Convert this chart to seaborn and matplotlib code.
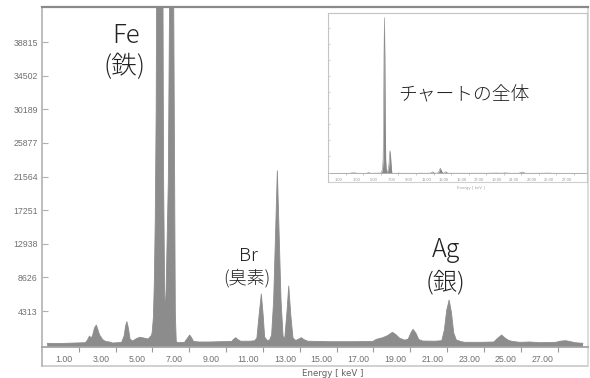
import matplotlib
matplotlib.use("Agg")
import matplotlib.pyplot as plt
import matplotlib.transforms as mtransforms
import seaborn as sns

# spectrum (keV, counts)
energy_kev = [0.28, 0.95, 1.77, 2.36, 2.47, 2.58, 2.66, 2.74, 2.85, 2.95,
              3.04, 3.13, 3.29, 3.45, 3.67, 3.83, 4.32, 4.46, 4.54, 4.61,
              4.69, 4.78, 4.92, 5.14, 5.30, 5.52, 5.76, 5.92, 5.98, 6.05,
              6.10, 6.15, 6.20, 6.25, 6.30, 6.35, 6.40, 6.45, 6.50, 6.55,
              6.60, 6.66, 6.70, 6.74, 6.80, 6.86, 6.93, 6.99, 7.04, 7.09,
              7.15, 7.20, 7.24, 7.29, 7.36, 7.74, 7.91, 8.02, 8.13, 8.23,
              8.56, 9.10, 9.65, 10.30, 10.40, 10.52, 10.63, 10.79, 11.28, 11.55,
              11.67, 11.79, 11.91, 12.01, 12.09, 12.23, 12.36, 12.47, 12.58, 12.69,
              12.78, 12.87, 12.98, 13.09, 13.18, 13.29, 13.40, 13.51, 13.63, 13.78,
              13.94, 14.09, 14.21, 14.43, 15.63, 16.71, 17.96, 18.16, 18.51, 18.78,
              19.03, 19.21, 19.43, 19.70, 19.89, 20.03, 20.15, 20.30, 20.46, 20.68,
              21.33, 21.71, 21.85, 21.98, 22.11, 22.23, 22.36, 22.50, 22.78, 22.96,
              23.78, 24.54, 24.70, 24.96, 25.14, 25.35, 25.57, 25.95, 26.49, 27.04,
              27.91, 28.13, 28.43, 28.67, 28.94, 29.38]
counts = [167, 140, 205, 245, 590, 1100, 850, 1100, 2130, 2515,
          1870, 1230, 655, 400, 335, 205, 270, 1100, 2390, 2940,
          2130, 720, 460, 780, 940, 850, 720, 1100, 1500, 3500,
          8000, 16000, 30000, 60000, 200000, 520000, 690000, 520000, 200000, 60000,
          22000, 7000, 3580, 7000, 14000, 21000, 45000, 85000, 100000, 85000,
          45000, 21000, 4000, 400, 245, 295, 850, 1230, 850, 400,
          335, 335, 372, 400, 655, 890, 655, 436, 436, 490,
          850, 3800, 6495, 3800, 975, 525, 590, 1230, 5725, 14700,
          22320, 14700, 5725, 1100, 720, 3800, 7520, 3800, 850, 525,
          720, 890, 655, 436, 372, 372, 400, 680, 890, 1170,
          1580, 1300, 810, 565, 720, 1490, 1960, 1490, 655, 460,
          436, 500, 1870, 4440, 5720, 4185, 1490, 590, 372, 295,
          295, 335, 720, 1230, 850, 525, 400, 295, 335, 245,
          295, 436, 500, 400, 245, 167]

y_tick_values = [4313, 8626, 12938, 17251, 21564, 25877, 30189, 34502, 38815]
x_label_values = [1, 3, 5, 7, 9, 11, 13, 15, 17, 19, 21, 23, 25, 27]
x_tick_labels = ["%.2f" % v for v in x_label_values]
x_minor_values = [2, 4, 6, 8, 10, 12, 14, 16, 18, 20, 22, 24, 26, 28]
inset_y_ticks = [76000, 147000, 218000, 289000, 359000, 430000, 501000, 572000, 642000]

sns.set_theme(style="white")
plt.rcParams['font.family'] = ['Noto Sans CJK JP', 'DejaVu Sans']

fill_col = "#8c8c8c"
tick_col = "#707070"

fig = plt.figure(figsize=(5.9, 3.78), dpi=100)
ax = fig.add_axes([0.0712, 0.0317, 0.9254, 0.9485])

axis_floor = -270
ax.fill_between(energy_kev, counts, axis_floor, color=fill_col, linewidth=0)
sns.lineplot(x=energy_kev, y=counts, ax=ax, color=fill_col, linewidth=0.6)
ax.set_xlim(0, 29.65)
ax.set_ylim(-2747, 43270)
ax.set_xlabel("")
ax.set_ylabel("")

ax.set_yticks(y_tick_values)
ax.set_yticklabels([str(v) for v in y_tick_values])
ax.tick_params(axis="y", direction="in", length=4, width=0.8, color="#b0b0b0",
               pad=3, left=True, labelsize=6.3, labelcolor=tick_col,
               labelfontfamily="Liberation Sans")
ax.set_xticks(x_label_values)
ax.set_xticklabels(x_tick_labels)
ax.set_xticks(x_minor_values, minor=True)
ax.tick_params(axis="x", which="major", length=0, pad=6.3, bottom=True,
               labelsize=6.3, labelcolor=tick_col, labelfontfamily="Liberation Sans")
ax.tick_params(axis="x", which="minor", direction="out", length=3.6, width=0.8,
               color="#9a9a9a", bottom=True)

ax.spines["bottom"].set_position(("data", axis_floor))
ax.spines["bottom"].set_color("#a0a0a0")
ax.spines["top"].set_color("#8a8a8a")
ax.spines["top"].set_linewidth(1.6)
ax.spines["left"].set_color("#b5b5b5")
ax.spines["right"].set_color("#d8d8d8")
ax.axhline(-2747, color="#c8c8c8", linewidth=1.2, clip_on=False)
ax.text(0.533, -0.02, "Energy [ keV ]", transform=ax.transAxes, ha="center",
        va="center", family="DejaVu Sans", fontsize=6.2, color="#606060")

shift = mtransforms.ScaledTranslation(0.035, 0, fig.dpi_scale_trans)
for lab in ax.get_xticklabels():
    lab.set_transform(lab.get_transform() + shift)

# inset: whole chart
ins = fig.add_axes([0.5564, 0.5193, 0.4385, 0.4471])
ins.set_facecolor("white")
ins.fill_between(energy_kev, counts, 0, color="#888888", linewidth=0)
sns.lineplot(x=energy_kev, y=counts, ax=ins, color="#888888", linewidth=0.4)
ins.set_xlim(0, 29.5)
ins.set_ylim(-37200, 712000)
ins.set_xlabel("")
ins.set_ylabel("")
ins.set_yticks(inset_y_ticks)
ins.set_yticklabels([])
ins.tick_params(axis="y", direction="in", length=1.5, width=0.5, color="#b8b8b8", left=True)
ins.set_xticks(x_label_values)
ins.set_xticklabels(x_tick_labels)
ins.set_xticks(x_minor_values, minor=True)
ins.tick_params(axis="x", which="major", length=0, pad=3.2, bottom=True,
                labelsize=3, labelcolor="#9a9a9a", labelfontfamily="Liberation Sans")
ins.tick_params(axis="x", which="minor", direction="out", length=1.6, width=0.5,
                color="#b0b0b0", bottom=True)
ins.spines["bottom"].set_position(("data", 0))
ins.spines["bottom"].set_color("#b0b0b0")
ins.spines["bottom"].set_linewidth(0.6)
for s in ["top", "left", "right"]:
    ins.spines[s].set_color("#c4c4c4")
    ins.spines[s].set_linewidth(0.8)
ins.axhline(-37200, color="#cfcfcf", linewidth=0.8, clip_on=False)
ins.text(0.55, -0.035, "Energy [ keV ]", transform=ins.transAxes, ha="center",
         va="center", family="DejaVu Sans", fontsize=2.8, color="#a0a0a0")
ins_shift = mtransforms.ScaledTranslation(0.017, 0, fig.dpi_scale_trans)
for lab in ins.get_xticklabels():
    lab.set_transform(lab.get_transform() + ins_shift)

# annotations (figure pixel positions)
W, H = 590.0, 378.0
txt = "#222222"
fig.text(126 / W, 1 - 42.7 / H, "Fe", ha="center", va="baseline", fontsize=18.5,
         color=txt, fontweight="light")
fig.text(125 / W, 1 - 74.5 / H, "(鉄)", ha="center", va="baseline", fontsize=18.5,
         color=txt, fontweight="light")
fig.text(248 / W, 1 - 261 / H, "Br", ha="center", va="baseline", fontsize=13.5,
         color=txt, fontweight="light")
fig.text(247 / W, 1 - 283.7 / H, "(臭素)", ha="center", va="baseline", fontsize=13,
         color=txt, fontweight="light")
fig.text(446 / W, 1 - 256.7 / H, "Ag", ha="center", va="baseline", fontsize=18,
         color=txt, fontweight="light")
fig.text(446 / W, 1 - 289 / H, "(銀)", ha="center", va="baseline", fontsize=17.5,
         color=txt, fontweight="light")
fig.text(464 / W, 1 - 100.4 / H, "チャートの全体", ha="center", va="baseline",
         fontsize=13.5, color=txt, fontweight="light")

fig.savefig("out.png", dpi=100)
